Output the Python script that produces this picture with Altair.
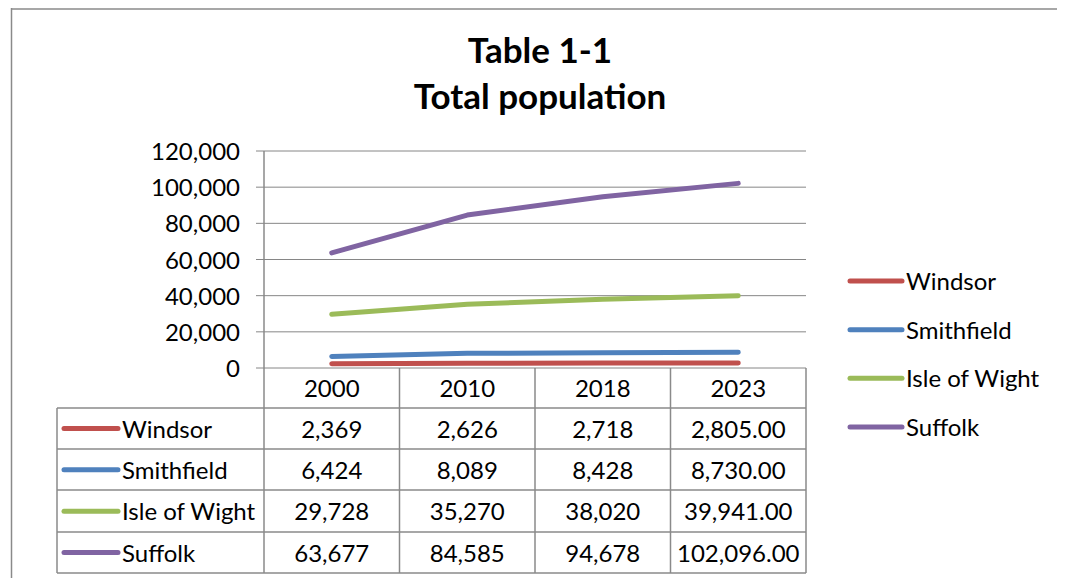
import altair as alt
import pandas as pd

# ---- data ----
years = ["2000", "2010", "2018", "2023"]
series = ["Windsor", "Smithfield", "Isle of Wight", "Suffolk"]
windsor = [2369, 2626, 2718, 2805]
smithfield = [6424, 8089, 8428, 8730]
isle_of_wight = [29728, 35270, 38020, 39941]
suffolk = [63677, 84585, 94678, 102096]
colors = ["#C0504D", "#4F81BD", "#9BBB59", "#8064A2"]
y_ticks = [0, 20000, 40000, 60000, 80000, 100000, 120000]
title_lines = ["Table 1-1", "Total population"]

FONT = "Lato"
FS = 24
DY = 2
W, H = 1049, 570

# ---- layout (chart pixel coordinates, page minus 8px margin) ----
PX0, PX1 = 256, 798          # plot area left/right
PY_TOP, PY0 = 143, 360       # y of 120,000 and of 0
ROW_EDGES = [400, 441, 482, 524, 565]
TABLE_LEFT = 49
STEP = (PX1 - PX0) / len(years)
COL_EDGES = [PX0 + STEP * i for i in range(len(years) + 1)]

values = [windsor, smithfield, isle_of_wight, suffolk]
rows = []
for s, vals in zip(series, values):
    for y, v in zip(years, vals):
        lab = f"{v:,.2f}" if y == "2023" else f"{v:,.0f}"
        rows.append({"series": s, "year": y, "value": v, "label": lab})
df = pd.DataFrame(rows)

xs = alt.Scale(type="point", domain=years, range=[PX0, PX1], padding=0.5)
ys = alt.Scale(domain=[0, 120000], range=[PY0, PY_TOP])
cs = alt.Scale(domain=series, range=colors)
row_centers = [(ROW_EDGES[i] + ROW_EDGES[i + 1]) / 2 for i in range(4)]
row_scale = alt.Scale(type="point", domain=series, range=[row_centers[0], row_centers[-1]], padding=0)
leg_scale = alt.Scale(type="point", domain=series, range=[273, 419], padding=0)

# decorative layout lines
lines_df = []
lines_df.append({"x": 3.5, "x2": 3.5, "y": 0, "y2": H})       # outer frame left
lines_df.append({"x": 3, "x2": W, "y": 1, "y2": 1})           # outer frame top
for yv in ROW_EDGES:
    lines_df.append({"x": TABLE_LEFT, "x2": PX1, "y": yv, "y2": yv})
lines_df.append({"x": TABLE_LEFT, "x2": TABLE_LEFT, "y": ROW_EDGES[0], "y2": ROW_EDGES[-1]})
lines_df.append({"x": PX0, "x2": PX0, "y": PY_TOP, "y2": ROW_EDGES[-1]})
for xv in COL_EDGES[1:]:
    lines_df.append({"x": xv, "x2": xv, "y": PY0, "y2": ROW_EDGES[-1]})
lines_df = pd.DataFrame(lines_df)

frame = alt.Chart(lines_df).mark_rule(color="#8a8a8a", strokeWidth=1.5).encode(
    x=alt.X("x:Q", scale=None), x2="x2:Q",
    y=alt.Y("y:Q", scale=None), y2="y2:Q",
)

ticks_df = pd.DataFrame({"v": y_ticks})
grid = alt.Chart(ticks_df).mark_rule(color="#868686", strokeWidth=1).encode(
    y=alt.Y("v:Q", scale=ys, axis=None),
    x=alt.value(PX0 - 8), x2=alt.value(PX1),
)
tick_labels = alt.Chart(ticks_df).mark_text(
    align="right", baseline="middle", font=FONT, fontSize=FS, color="black", dy=DY
).encode(
    y=alt.Y("v:Q", scale=ys, axis=None),
    x=alt.value(PX0 - 24),
    text=alt.Text("v:Q", format=","),
)

lines = alt.Chart(df).mark_line(strokeWidth=5, strokeCap="round", strokeJoin="round").encode(
    x=alt.X("year:N", scale=xs, axis=None),
    y=alt.Y("value:Q", scale=ys, axis=None),
    color=alt.Color("series:N", scale=cs, legend=None),
    order=alt.Order("year:N"),
)

header = alt.Chart(pd.DataFrame({"year": years})).mark_text(
    font=FONT, fontSize=FS, baseline="middle", color="black", dy=DY
).encode(
    x=alt.X("year:N", scale=xs, axis=None),
    y=alt.value((PY0 + ROW_EDGES[0]) / 2),
    text="year:N",
)

cells = alt.Chart(df).mark_text(font=FONT, fontSize=FS, baseline="middle", color="black", dy=DY).encode(
    x=alt.X("year:N", scale=xs, axis=None),
    y=alt.Y("series:N", scale=row_scale, axis=None),
    text="label:N",
)

ser_df = pd.DataFrame({"series": series})
row_sym = alt.Chart(ser_df).mark_rule(strokeWidth=5, strokeCap="round").encode(
    x=alt.value(TABLE_LEFT + 7), x2=alt.value(TABLE_LEFT + 61),
    y=alt.Y("series:N", scale=row_scale, axis=None),
    color=alt.Color("series:N", scale=cs, legend=None),
)
row_lab = alt.Chart(ser_df).mark_text(
    align="left", baseline="middle", font=FONT, fontSize=FS, color="black", dy=DY
).encode(
    x=alt.value(TABLE_LEFT + 65),
    y=alt.Y("series:N", scale=row_scale, axis=None),
    text="series:N",
)

leg_sym = alt.Chart(ser_df).mark_rule(strokeWidth=5, strokeCap="round").encode(
    x=alt.value(842), x2=alt.value(894),
    y=alt.Y("series:N", scale=leg_scale, axis=None),
    color=alt.Color("series:N", scale=cs, legend=None),
)
leg_lab = alt.Chart(ser_df).mark_text(
    align="left", baseline="middle", font=FONT, fontSize=FS, color="black", dy=DY
).encode(
    x=alt.value(898),
    y=alt.Y("series:N", scale=leg_scale, axis=None),
    text="series:N",
)

t1 = alt.Chart(pd.DataFrame({"t": [title_lines[0]]})).mark_text(
    font=FONT, fontSize=35, fontWeight="bold", baseline="middle", color="black"
).encode(x=alt.value(532), y=alt.value(44), text="t:N")
t2 = alt.Chart(pd.DataFrame({"t": [title_lines[1]]})).mark_text(
    font=FONT, fontSize=35, fontWeight="bold", baseline="middle", color="black"
).encode(x=alt.value(532), y=alt.value(90), text="t:N")

chart = alt.layer(
    frame, grid, tick_labels, lines, header, cells, row_sym, row_lab, leg_sym, leg_lab, t1, t2
).resolve_scale(y="independent").properties(
    width=W, height=H, autosize=alt.AutoSizeParams(type="none"), padding=0
).configure_view(stroke=None)

chart.save("out.html", embed_options={"renderer": "svg", "actions": False})
